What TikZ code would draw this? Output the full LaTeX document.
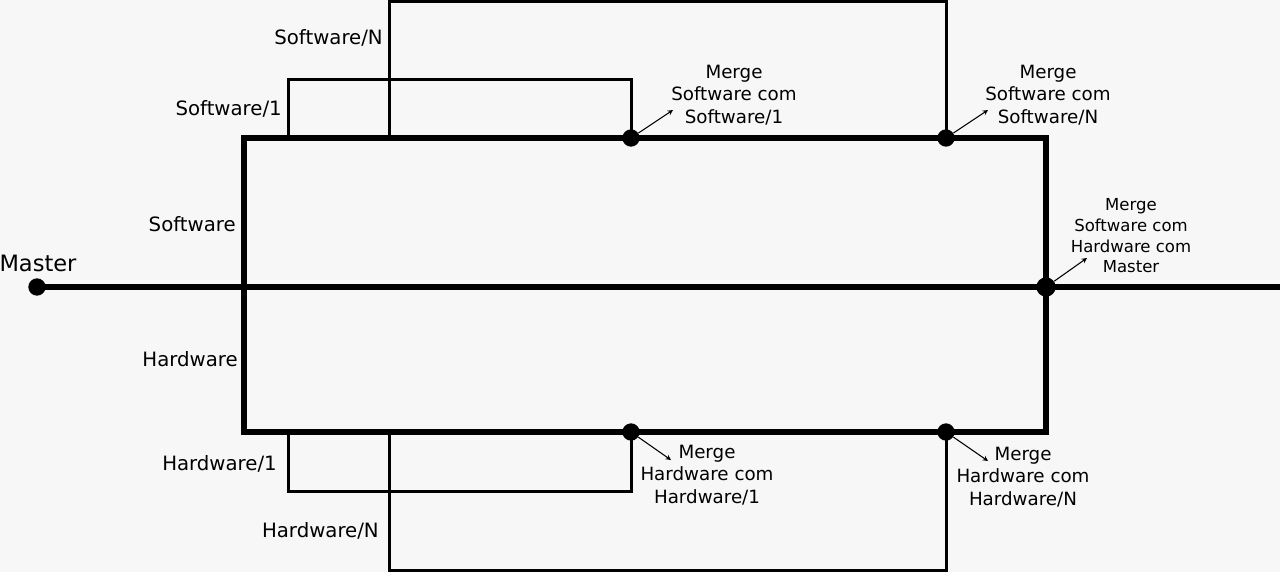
\documentclass[tikz,border=0pt]{standalone}
\usepackage{fontspec}
\setmainfont{DejaVu Sans}
\definecolor{bg}{HTML}{F7F7F7}
\begin{document}
\begin{tikzpicture}[x=0.75pt,y=-0.75pt,
  main/.style={line width=3.8pt},
  branch/.style={line width=2.25pt},
  dot/.style={circle,fill=black,inner sep=0pt,minimum size=13pt},
  bigdot/.style={dot,minimum size=14.5pt},
  pointer/.style={-stealth,line width=0.8pt},
  lbl/.style={font=\fontsize{14.8}{18}\selectfont,inner sep=0pt},
  mlbl/.style={font=\fontsize{13.7}{16.9}\selectfont,align=center,inner sep=0pt},
  slbl/.style={font=\fontsize{12.4}{15.5}\selectfont,align=center,inner sep=0pt}]
\fill[bg] (0,0) rectangle (1280,572);
\useasboundingbox (0,0) rectangle (1280,572);
% coordinates
\coordinate (tl) at (244,138);
\coordinate (tr) at (1046,138);
\coordinate (bl) at (244,432);
\coordinate (br) at (1046,432);
\coordinate (mend) at (1280,287);
\coordinate (s1a) at (288,138);
\coordinate (s1b) at (288,79);
\coordinate (s1c) at (631,79);
\coordinate (sNa) at (389,138);
\coordinate (sNb) at (389,1.5);
\coordinate (sNc) at (946,1.5);
\coordinate (h1a) at (288,432);
\coordinate (h1b) at (288,491);
\coordinate (h1c) at (631,491);
\coordinate (hNa) at (389,432);
\coordinate (hNb) at (389,570);
\coordinate (hNc) at (946,570);
% dot positions
\coordinate (masterc) at (37,287);
\coordinate (ms1c) at (631,138);
\coordinate (msNc) at (946,138);
\coordinate (mallc) at (1046,287);
\coordinate (mh1c) at (631,432);
\coordinate (mhNc) at (946,432);
% branches
\draw[branch] (s1a) -- (s1b) -- (s1c) -- (ms1c);
\draw[branch] (sNa) -- (sNb) -- (sNc) -- (msNc);
\draw[branch] (h1a) -- (h1b) -- (h1c) -- (mh1c);
\draw[branch] (hNa) -- (hNb) -- (hNc) -- (mhNc);
% main
\draw[main] (tl) -- (tr) -- (br) -- (bl) -- cycle;
\draw[main] (masterc) -- (mend);
% dots
\node[dot] (master) at (masterc) {};
\node[dot] (ms1) at (ms1c) {};
\node[dot] (msN) at (msNc) {};
\node[bigdot] (mall) at (mallc) {};
\node[dot] (mh1) at (mh1c) {};
\node[dot] (mhN) at (mhNc) {};
% labels
\node[lbl,anchor=east] (lsN) at (383,38) {Software/N};
\node[lbl,anchor=east] (ls1) at (282,109) {Software/1};
\node[lbl,anchor=east] (ls) at (236,224) {Software};
\node[lbl,anchor=east] (lh) at (238,359) {Hardware};
\node[lbl,anchor=east] (lh1) at (277,464) {Hardware/1};
\node[lbl,anchor=east] (lhN) at (379,531) {Hardware/N};
\node[inner sep=0pt,font=\fontsize{16.9}{20}\selectfont] (lm) at (38,263) {Master};
% merge labels
\node[mlbl] (t1) at (734,95) {Merge\\Software com\\Software/1};
\node[mlbl] (tN) at (1048,95) {Merge\\Software com\\Software/N};
\node[slbl] (tm) at (1131,236) {Merge\\Software com\\Hardware com\\Master};
\node[mlbl] (b1) at (707,475) {Merge\\Hardware com\\Hardware/1};
\node[mlbl] (bN) at (1023,477) {Merge\\Hardware com\\Hardware/N};
% pointers
\draw[pointer] (ms1) -- (673,110);
\draw[pointer] (msN) -- (988,110);
\draw[pointer] (mall) -- (1087,258);
\draw[pointer] (mh1) -- (671,460);
\draw[pointer] (mhN) -- (988,461);
\end{tikzpicture}
\end{document}
